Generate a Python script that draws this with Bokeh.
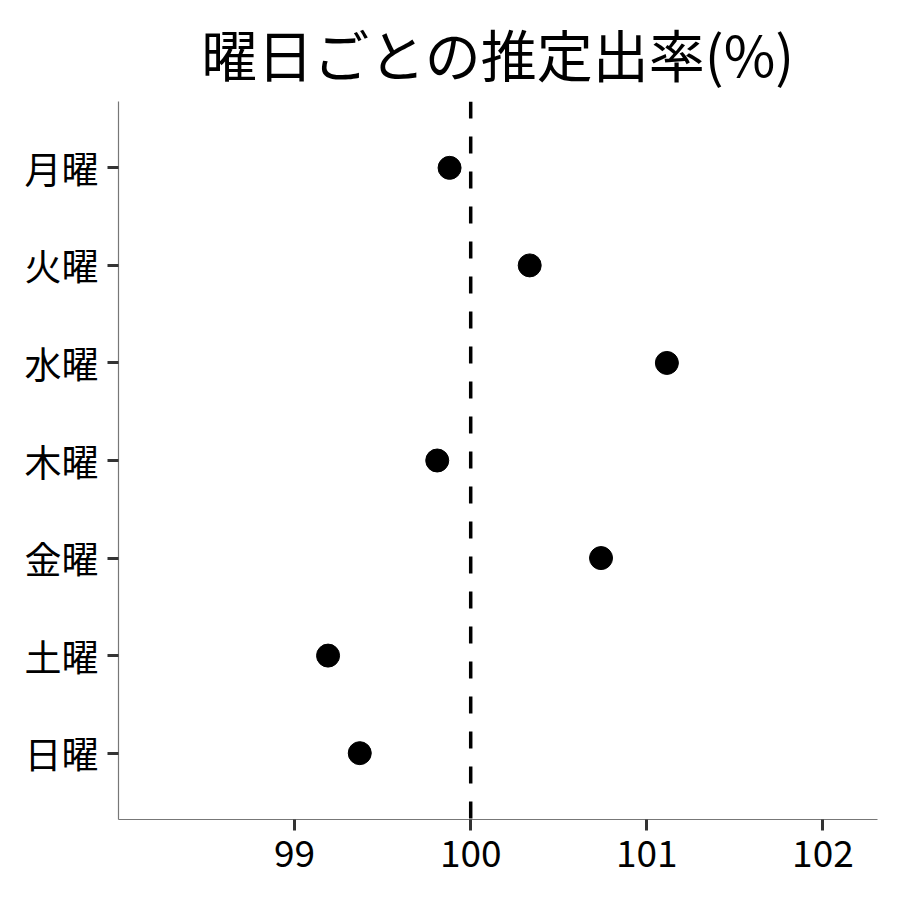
from bokeh.plotting import figure
from bokeh.models import FactorRange, Range1d, Span, FixedTicker
from bokeh.embed import file_html
from bokeh.resources import INLINE

days = ["月曜", "火曜", "水曜", "木曜", "金曜", "土曜", "日曜"]
rates = [99.88, 100.335, 101.114, 99.81, 100.74, 99.19, 99.37]
x_ticks = [99, 100, 101, 102]
baseline = 100
title_text = "曜日ごとの推定出率(%)"

FONT = "Noto Sans CJK JP"

p = figure(frame_width=759, frame_height=718, output_backend="svg", toolbar_location=None,
           y_range=FactorRange(factors=list(reversed(days)), range_padding=0.18,
                               range_padding_units="absolute"),
           x_range=Range1d(98.0, 102.31),
           title=title_text,
           min_border_left=118, min_border_right=15, min_border_top=101, min_border_bottom=70)

p.title.text_font = FONT
p.title.text_font_size = "56px"
p.title.text_font_style = "normal"
p.title.align = "center"
p.title.text_color = "black"
p.title.standoff = 18

p.xgrid.visible = False
p.ygrid.visible = False
p.outline_line_color = None

for ax in (p.xaxis[0], p.yaxis[0]):
    ax.axis_line_color = "#777777"
    ax.axis_line_width = 1.2
    ax.major_tick_line_color = "#333333"
    ax.major_tick_line_width = 3
    ax.major_tick_out = 11
    ax.major_tick_in = 0
    ax.minor_tick_line_color = None
    ax.major_label_text_font = FONT
    ax.major_label_text_font_size = "37px"
    ax.major_label_text_color = "black"
    ax.major_label_standoff = 9

p.xaxis.ticker = FixedTicker(ticks=x_ticks)

p.add_layout(Span(location=baseline, dimension="height", line_color="black",
                  line_width=3.5, line_dash="17 18"))

p.scatter(x=rates, y=days, size=23, color="black")

open("out.html", "w").write(file_html(p, INLINE))
